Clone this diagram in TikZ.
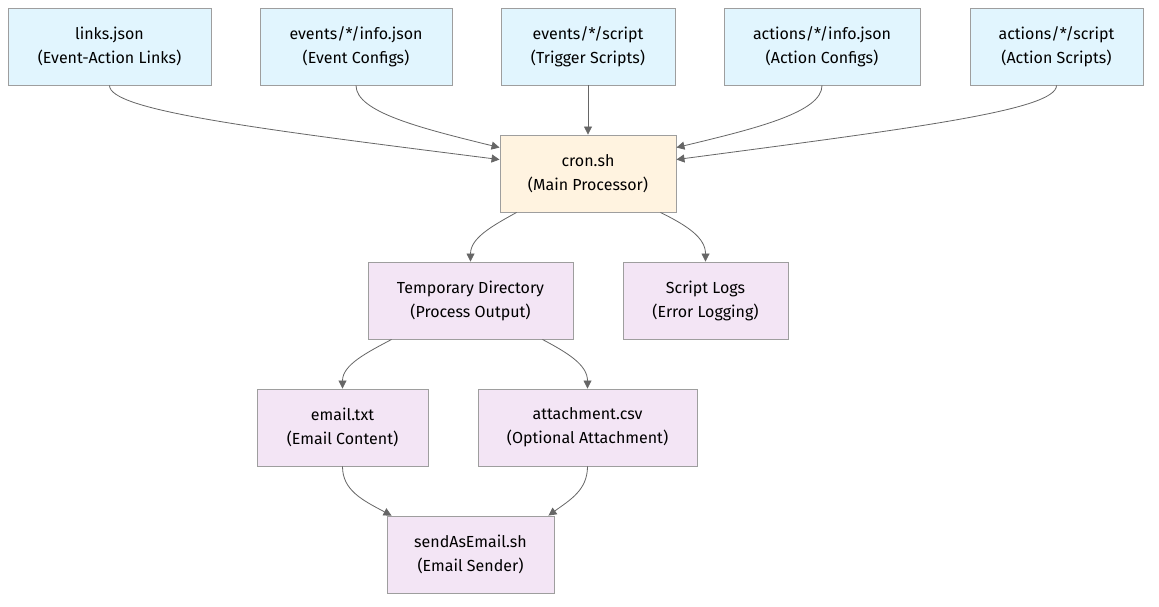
\documentclass[tikz,border=0pt]{standalone}
\usepackage{fontspec}
\setmainfont{Fira Sans}
\usetikzlibrary{arrows.meta,calc}
\definecolor{srcfill}{HTML}{E1F5FE}
\definecolor{procfill}{HTML}{FFF3E0}
\definecolor{outfill}{HTML}{F3E5F5}
\definecolor{boxline}{HTML}{9E9E9E}
\definecolor{edgeline}{HTML}{666666}
\begin{document}
\begin{tikzpicture}[x=1pt,y=-1pt,
  box/.style={draw=boxline,line width=0.9pt,inner sep=0pt,align=center,
    minimum height=77pt,font=\fontsize{16}{24}\selectfont},
  srcbox/.style={box,fill=srcfill},
  procbox/.style={box,fill=procfill},
  outbox/.style={box,fill=outfill},
  link/.style={draw=edgeline,line width=0.8pt,-{Triangle[length=8pt,width=8pt]}}]
\useasboundingbox[fill=white] (0,0) rectangle (1159,606);

% source files
\node[srcbox,minimum width=203pt] (links) at (109.5,46.5) {links.json\\(Event-Action Links)};
\node[srcbox,minimum width=192pt] (einfo) at (356,46.5) {events/*/info.json\\(Event Configs)};
\node[srcbox,minimum width=174pt] (escript) at (588,46.5) {events/*/script\\(Trigger Scripts)};
\node[srcbox,minimum width=196pt] (ainfo) at (822,46.5) {actions/*/info.json\\(Action Configs)};
\node[srcbox,minimum width=173pt] (ascript) at (1056.5,46.5) {actions/*/script\\(Action Scripts)};

% processor
\node[procbox,minimum width=176pt] (cron) at (588,173.5) {cron.sh\\(Main Processor)};

% outputs
\node[outbox,minimum width=205pt] (tmp) at (470.5,300.5) {Temporary Directory\\(Process Output)};
\node[outbox,minimum width=165pt] (logs) at (705.5,300.5) {Script Logs\\(Error Logging)};
\node[outbox,minimum width=171pt] (mail) at (342.5,427.5) {email.txt\\(Email Content)};
\node[outbox,minimum width=219pt] (att) at (587.5,427.5) {attachment.csv\\(Optional Attachment)};
\node[outbox,minimum width=167pt] (send) at (470.5,554.5) {sendAsEmail.sh\\(Email Sender)};

% inputs into cron.sh
\draw[link] (links.south) .. controls (109.5,110) and (250,128) .. ($(cron.north west)+(0,25)$);
\draw[link] (einfo.south) .. controls (356,112) and (420,128) .. ($(cron.north west)+(0,13)$);
\draw[link] (escript.south) -- (cron.north);
\draw[link] (ainfo.south) .. controls (822,112) and (758,128) .. ($(cron.north east)+(0,13)$);
\draw[link] (ascript.south) .. controls (1056.5,110) and (915,128) .. ($(cron.north east)+(0,25)$);

% cron.sh outputs
\draw[link] ($(cron.south west)+(17,0)$) .. controls (492,226) and (470.5,238) .. (tmp.north);
\draw[link] ($(cron.south east)+(-16,0)$) .. controls (688,226) and (705.5,238) .. (logs.north);

% temporary directory contents
\draw[link] ($(tmp.south west)+(24,0)$) .. controls (366,353) and (342.5,365) .. (mail.north);
\draw[link] ($(tmp.south east)+(-31,0)$) .. controls (568,353) and (587.5,365) .. (att.north);

% mail assembly
\draw[link] (mail.south) .. controls (342.5,490) and (362,500) .. ($(send.north west)+(5,0)$);
\draw[link] (att.south) .. controls (587.5,490) and (570,500) .. ($(send.north east)+(-6,0)$);
\end{tikzpicture}
\end{document}
